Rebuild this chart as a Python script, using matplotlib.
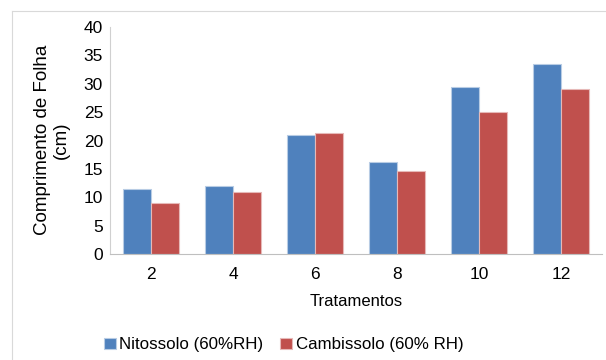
import numpy as np
import matplotlib.pyplot as plt
from matplotlib.lines import Line2D

plt.rcParams['font.family'] = ['Liberation Sans', 'DejaVu Sans']

tratamentos = ['2', '4', '6', '8', '10', '12']
nitossolo = [11.5, 12.0, 21.0, 16.2, 29.5, 33.5]
cambissolo = [9.0, 11.0, 21.4, 14.7, 25.0, 29.0]

fig = plt.figure(figsize=(6.06, 3.6), dpi=100)
ax = fig.add_axes([0.1815, 0.2944, 0.8119, 0.6306])

x = np.arange(len(tratamentos))
w = 0.34
ax.bar(x - w / 2, nitossolo, w, color='#4F81BD', edgecolor='#B8CCE4', linewidth=0.8,
       label='Nitossolo (60%RH)')
ax.bar(x + w / 2, cambissolo, w, color='#C0504D', edgecolor='#E6B9B8', linewidth=0.8,
       label='Cambissolo (60% RH)')

ax.set_xlim(-0.5, len(tratamentos) - 0.5)
ax.set_ylim(0, 40)
ax.set_yticks(range(0, 41, 5))
ax.set_xticks(x)
ax.set_xticklabels(tratamentos)
ax.tick_params(axis='both', length=0, labelsize=12.5, colors='black')
ax.tick_params(axis='y', pad=5)
ax.tick_params(axis='x', pad=9)

for s in ['top', 'right']:
    ax.spines[s].set_visible(False)
ax.spines['left'].set_color('#D0D0D0')
ax.spines['bottom'].set_color('#BFBFBF')

ax.set_xlabel('Tratamentos', fontsize=12, labelpad=9)
fig.text(0.086, 0.611, 'Comprimento de Folha\n(cm)', rotation=90, ha='center', va='center',
         fontsize=13.5, multialignment='center', linespacing=1.1)

fig.legend(*ax.get_legend_handles_labels(), loc='center', bbox_to_anchor=(0.468, 0.042),
           ncol=2, frameon=False, fontsize=12.2, handlelength=0.7, handleheight=0.7,
           handletextpad=0.2, columnspacing=1.0, borderpad=0)

# outer chart frame
fig.add_artist(Line2D([12 / 606, 1], [1 - 11 / 360, 1 - 11 / 360], color='#D9D9D9', lw=0.8))
fig.add_artist(Line2D([12 / 606, 12 / 606], [0, 1 - 11 / 360], color='#D9D9D9', lw=0.8))

fig.savefig('out.png', dpi=100)
